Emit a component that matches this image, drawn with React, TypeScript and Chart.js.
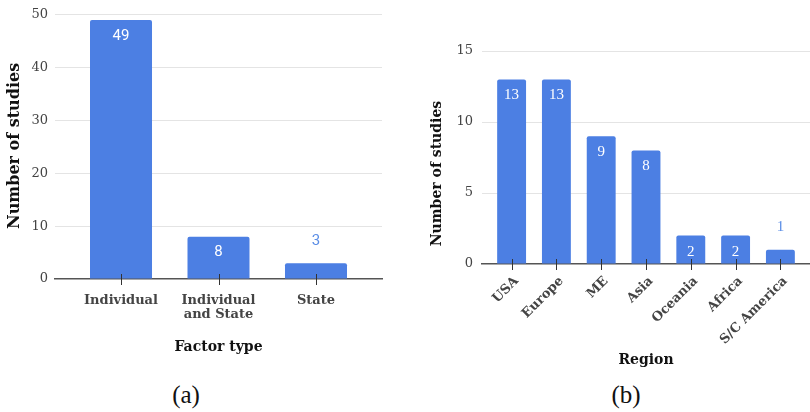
import { useEffect, useRef } from "react";
import { Chart, registerables } from "chart.js";

Chart.register(...registerables);

// (a) studies by factor type
const factorTypes: (string | string[])[] = ["Individual", ["Individual", "and State"], "State"];
const factorCounts = [49, 8, 3];
const factorMax = 50;
const factorStep = 10;

// (b) studies by region
const regions = ["USA", "Europe", "ME", "Asia", "Oceania", "Africa", "S/C America"];
const regionCounts = [13, 13, 9, 8, 2, 2, 1];
const regionMax = 15;
const regionStep = 5;

const yTitleText = "Number of studies";

const BAR = "#4c7fe3";
const BAR_LABEL_OUT = "#5b8ee6";
const GRID = "#e4e4e4";
const AXIS = "#555555";
const TICK_TEXT = "#444444";
const TITLE_TEXT = "#111111";
const SERIF = "'DejaVu Serif', serif";

type LabelOpts = {
  font: string;
  minInside: number;
  insideOffset: number;
  outsideOffset: number;
};

// Writes each bar's count inside its top, or above it when the bar is too short.
function valueLabels(o: LabelOpts) {
  return {
    id: "valueLabels",
    afterDatasetsDraw(chart: any) {
      const { ctx } = chart;
      const meta = chart.getDatasetMeta(0);
      const data = chart.data.datasets[0].data as { x: number; y: number }[];
      ctx.save();
      ctx.textAlign = "center";
      ctx.textBaseline = "middle";
      ctx.font = o.font;
      meta.data.forEach((bar: any, i: number) => {
        const { x, y, base } = bar.getProps(["x", "y", "base"], true);
        const inside = base - y >= o.minInside;
        ctx.fillStyle = inside ? "#ffffff" : BAR_LABEL_OUT;
        ctx.fillText(String(data[i].y), x, inside ? y + o.insideOffset : y - o.outsideOffset);
      });
      ctx.restore();
    },
  };
}

// Vertical y-axis title, centred on the plot height with an optional shift.
function sideTitle(text: string, size: number, x: number, shift: number) {
  return {
    id: "sideTitle",
    afterDraw(chart: any) {
      const { ctx, chartArea } = chart;
      ctx.save();
      ctx.translate(x, (chartArea.top + chartArea.bottom) / 2 + shift);
      ctx.rotate(-Math.PI / 2);
      ctx.textAlign = "center";
      ctx.textBaseline = "middle";
      ctx.fillStyle = TITLE_TEXT;
      ctx.font = `bold ${size}px ${SERIF}`;
      ctx.fillText(text, 0, 0);
      ctx.restore();
    },
  };
}

// Short tick marks crossing the baseline at each category.
const crossTicks = {
  id: "crossTicks",
  afterDatasetsDraw(chart: any) {
    const { ctx, chartArea } = chart;
    const xs = chart.scales.x;
    ctx.save();
    ctx.strokeStyle = "#333333";
    ctx.lineWidth = 1;
    xs.ticks.forEach((_: any, i: number) => {
      const px = Math.round(xs.getPixelForTick(i)) + 0.5;
      ctx.beginPath();
      ctx.moveTo(px, chartArea.bottom - 5);
      ctx.lineTo(px, chartArea.bottom + 6);
      ctx.stroke();
    });
    ctx.restore();
  },
};

type PanelProps = {
  categories: (string | string[])[];
  counts: number[];
  yMax: number;
  yStep: number;
  xTitle: string;
  width: number;
  height: number;
  left: number;
  pad: { top: number; right: number };
  yAxisWidth: number;
  xAxisHeight: number;
  xMargin: number;
  barPct: number;
  rotate: boolean;
  catFont: number;
  labelShift: number;
  yTitle: { size: number; x: number; shift: number };
  yTickPad: number;
  xTickPad: number;
  xTitlePad: number;
  labels: LabelOpts;
};

function Panel(p: PanelProps) {
  const ref = useRef<HTMLCanvasElement | null>(null);

  useEffect(() => {
    if (!ref.current) return;
    const n = p.counts.length;
    const chart = new Chart(ref.current, {
      type: "bar",
      data: {
        datasets: [
          {
            data: p.counts.map((v, i) => ({ x: i, y: v })),
            backgroundColor: BAR,
            borderRadius: 2,
            borderSkipped: "bottom",
            categoryPercentage: 1,
            barPercentage: p.barPct,
          },
        ],
      },
      options: {
        animation: false,
        responsive: false,
        layout: { padding: { top: p.pad.top, right: p.pad.right, left: 0, bottom: 0 } },
        plugins: { legend: { display: false }, tooltip: { enabled: false } },
        scales: {
          x: {
            type: "linear",
            offset: false,
            bounds: "data",
            min: -p.xMargin,
            max: n - 1 + p.xMargin,
            afterBuildTicks: (s: any) => {
              s.ticks = p.counts.map((_, i) => ({ value: i }));
            },
            afterFit: (s: any) => {
              s.height = p.xAxisHeight;
            },
            grid: { display: false, drawTicks: false, offset: false },
            border: { display: true, color: AXIS, width: 1.5 },
            ticks: {
              includeBounds: false,
              autoSkip: false,
              maxRotation: p.rotate ? 45 : 0,
              minRotation: p.rotate ? 45 : 0,
              padding: p.xTickPad,
              labelOffset: p.labelShift,
              color: TICK_TEXT,
              font: { family: SERIF, size: p.catFont, weight: "bold", lineHeight: 1.1 },
              callback: (v: any) => p.categories[v as number] ?? "",
            },
            title: {
              display: true,
              text: p.xTitle,
              color: TITLE_TEXT,
              font: { family: SERIF, size: 14, weight: "bold" },
              padding: { top: 4, bottom: p.xTitlePad },
            },
          },
          y: {
            min: 0,
            max: p.yMax,
            afterFit: (s: any) => {
              s.width = p.yAxisWidth;
            },
            grid: {
              drawTicks: false,
              color: (c: any) => (c.tick && c.tick.value === 0 ? "rgba(0,0,0,0)" : GRID),
              lineWidth: 1,
            },
            border: { display: false },
            ticks: {
              stepSize: p.yStep,
              padding: p.yTickPad,
              color: TICK_TEXT,
              font: { family: SERIF, size: 13 },
            },
          },
        },
      },
      plugins: [
        valueLabels(p.labels),
        crossTicks,
        sideTitle(yTitleText, p.yTitle.size, p.yTitle.x, p.yTitle.shift),
      ],
    } as any);
    return () => chart.destroy();
  }, []);

  return (
    <canvas
      ref={ref}
      width={p.width}
      height={p.height}
      style={{ position: "absolute", left: p.left, top: 0 }}
    />
  );
}

const captionStyle = {
  position: "absolute" as const,
  top: 380,
  width: 60,
  textAlign: "center" as const,
  fontFamily: "'Liberation Serif', serif",
  fontSize: 25,
  lineHeight: "30px",
  color: "#111",
};

export default function App() {
  return (
    <div
      style={{
        position: "fixed",
        left: 0,
        top: 0,
        width: 810,
        height: 412,
        background: "#ffffff",
        overflow: "hidden",
      }}
    >
      <Panel
        categories={factorTypes}
        counts={factorCounts}
        yMax={factorMax}
        yStep={factorStep}
        xTitle="Factor type"
        width={400}
        height={370}
        left={0}
        pad={{ top: 12, right: 18 }}
        yAxisWidth={55}
        xAxisHeight={91}
        xMargin={0.677}
        barPct={0.636}
        rotate={false}
        catFont={13}
        labelShift={0}
        yTitle={{ size: 16, x: 15, shift: -1 }}
        yTickPad={7}
        xTickPad={14}
        xTitlePad={14}
        labels={{ font: "15px Roboto, sans-serif", minInside: 20, insideOffset: 16, outsideOffset: 22 }}
      />
      <Panel
        categories={regions}
        counts={regionCounts}
        yMax={regionMax}
        yStep={regionStep}
        xTitle="Region"
        width={390}
        height={370}
        left={420}
        pad={{ top: 51, right: 0 }}
        yAxisWidth={62}
        xAxisHeight={106}
        xMargin={0.661}
        barPct={0.645}
        rotate={true}
        catFont={13}
        labelShift={5}
        yTitle={{ size: 14, x: 17, shift: 16 }}
        yTickPad={9}
        xTickPad={10}
        xTitlePad={1}
        labels={{ font: "15px 'Liberation Serif', serif", minInside: 20, insideOffset: 16, outsideOffset: 23 }}
      />
      <div style={{ ...captionStyle, left: 156 }}>(a)</div>
      <div style={{ ...captionStyle, left: 596 }}>(b)</div>
    </div>
  );
}
